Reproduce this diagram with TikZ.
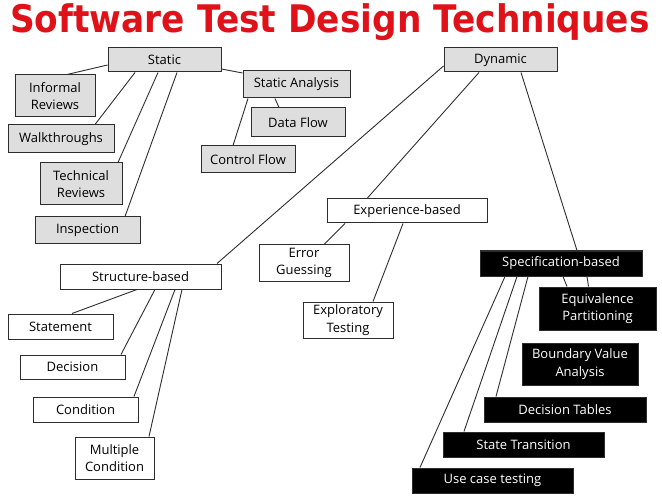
\documentclass[tikz,border=0pt]{standalone}
\usepackage{fontspec}
\setmainfont{Open Sans}
\newfontfamily\titlefont{DejaVu Sans}
\usetikzlibrary{backgrounds}

\definecolor{titlered}{RGB}{222,18,24}
\definecolor{boxgrey}{RGB}{222,222,222}
\definecolor{edgegrey}{RGB}{45,45,45}

\tikzset{
  tbox/.style={draw=edgegrey, line width=1pt, fill=white, inner sep=1pt, align=center,
               font=\fontsize{13}{17.5}\selectfont},
  greybox/.style={tbox, fill=boxgrey},
  blackbox/.style={tbox, fill=black, text=white},
  link/.style={line width=0.9pt, draw=edgegrey}
}

\begin{document}
\begin{tikzpicture}[x=1pt, y=-1pt]
\useasboundingbox (0,0) rectangle (662,500);

\node[anchor=base, text=titlered, inner sep=0pt] (title) at (330,33)
  {\scalebox{0.905}[1]{\titlefont\bfseries\fontsize{38}{40}\selectfont Software Test Design Techniques}};

% static side
\node[greybox, minimum width=113, minimum height=24] (static) at (164.5,60) {Static};
\node[greybox, minimum width=80, minimum height=42] (informal) at (55,96) {Informal\\Reviews};
\node[greybox, minimum width=106, minimum height=28] (walk) at (61,139) {Walkthroughs};
\node[greybox, minimum width=82, minimum height=42] (technical) at (81,184) {Technical\\Reviews};
\node[greybox, minimum width=105, minimum height=27] (inspection) at (87.5,230.5) {Inspection};
\node[greybox, minimum width=107, minimum height=27] (analysis) at (296.5,84.5) {Static Analysis};
\node[greybox, minimum width=94, minimum height=29] (dataflow) at (298,122.5) {Data Flow};
\node[greybox, minimum width=94, minimum height=27] (ctrlflow) at (248,159.5) {Control Flow};

% dynamic side
\node[greybox, minimum width=113, minimum height=24] (dynamic) at (500.5,60) {Dynamic};
\node[tbox, minimum width=160, minimum height=24] (experience) at (407,211) {Experience-based};
\node[tbox, minimum width=90, minimum height=36] (guessing) at (304,263) {Error\\Guessing};
\node[tbox, minimum width=90, minimum height=36] (exploratory) at (348,320) {Exploratory\\Testing};
\node[tbox, minimum width=161, minimum height=25] (structure) at (140.5,276.5) {Structure-based};
\node[tbox, minimum width=105, minimum height=25] (statement) at (60.5,326.5) {Statement};
\node[tbox, minimum width=105, minimum height=24] (decision) at (72.5,367) {Decision};
\node[tbox, minimum width=105, minimum height=25] (condition) at (85.5,409.5) {Condition};
\node[tbox, minimum width=79, minimum height=42] (multiple) at (114.5,458) {Multiple\\Condition};

\node[blackbox, minimum width=162, minimum height=25] (spec) at (561,263.5) {Specification-based};
\node[blackbox, minimum width=117, minimum height=43] (equiv) at (597.5,308.5) {Equivalence\\Partitioning};
\node[blackbox, minimum width=116, minimum height=42] (boundary) at (580,364) {Boundary Value\\Analysis};
\node[blackbox, minimum width=162, minimum height=25] (dtables) at (565,409.5) {Decision Tables};
\node[blackbox, minimum width=161, minimum height=25] (state) at (523.5,444.5) {State Transition};
\node[blackbox, minimum width=161, minimum height=25] (usecase) at (492.5,480.5) {Use case testing};

\begin{scope}[on background layer]
\draw[link] ([yshift=-5pt]static.west) -- ([xshift=12pt]informal.north);
\draw[link] ([yshift=-9pt]static.east) -- ([yshift=11.5pt]analysis.west);
\draw[link] ([yshift=-6pt]dynamic.west) -- ([xshift=76.5pt]structure.north);

\foreach \a/\sa/\b/\sb in {static/-29.5/walk/34, static/-6.5/technical/37,
    static/12.5/inspection/37.5, analysis/-48.5/ctrlflow/-15, analysis/-21.5/dataflow/-19,
    dynamic/-21.5/experience/-40, dynamic/20.5/spec/16,
    experience/-62/guessing/20, experience/-4/exploratory/25,
    structure/-3.5/statement/11.5, structure/14.5/decision/48.5,
    structure/34.5/condition/48.5, structure/41.5/multiple/34.5,
    spec/-56/usecase/-72.5, spec/-44/state/-59.5, spec/-33/dtables/-69,
    spec/2/equiv/-30.5, spec/26/equiv/-9}
  \draw[link] ([xshift=\sa pt]\a.south) -- ([xshift=\sb pt]\b.north);
\end{scope}
\end{tikzpicture}
\end{document}
